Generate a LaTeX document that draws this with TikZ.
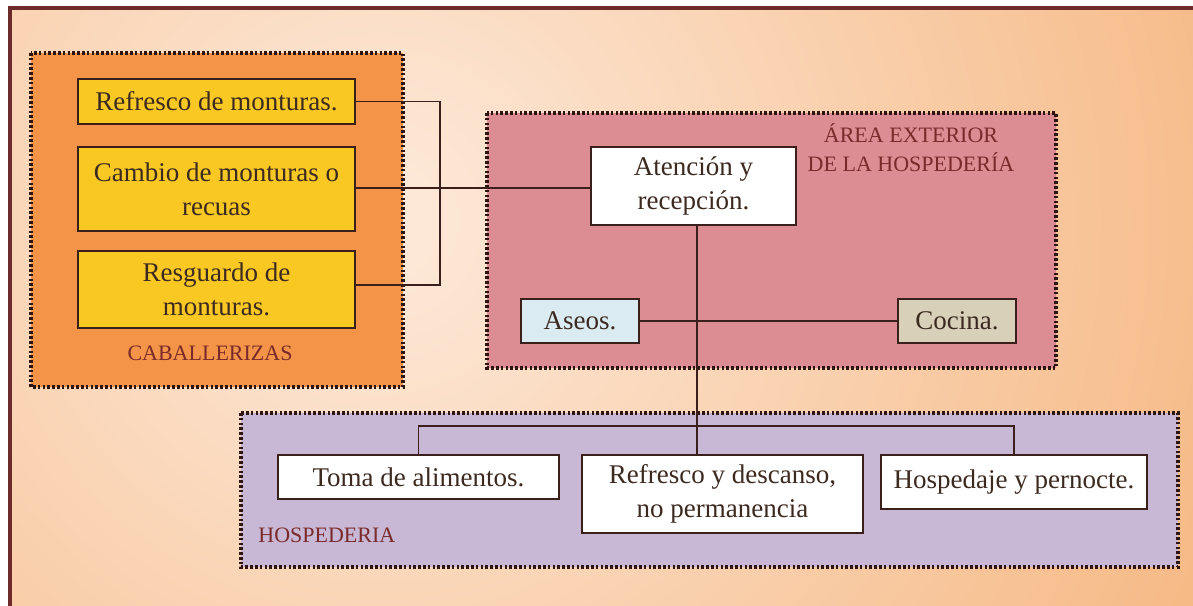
\documentclass[tikz,border=0pt]{standalone}
\usepackage{fontspec}
\setmainfont{Liberation Serif}
\newfontfamily\boxfont{Liberation Serif}
\definecolor{frame}{HTML}{6E2B2B}
\definecolor{dots}{HTML}{2E140E}
\definecolor{lin}{HTML}{3B1F1A}
\definecolor{txt}{HTML}{3C2A20}
\definecolor{lab}{HTML}{7A2A2A}
\definecolor{bglight}{HTML}{FDEADB}
\definecolor{bgdark}{HTML}{F5B47C}
\definecolor{cab}{HTML}{F39448}
\definecolor{yel}{HTML}{F9C823}
\definecolor{pink}{HTML}{DC8C93}
\definecolor{lav}{HTML}{C8B8D5}
\definecolor{aseo}{HTML}{DAECF2}
\definecolor{coc}{HTML}{D8D0B8}
\tikzset{
  zone/.style={draw=dots, line width=1.9pt, dash pattern=on 1.3pt off 1.1pt},
  boxa/.style={draw=lin, line width=0.8pt, inner sep=0pt, align=center, text=txt,
     font=\boxfont\fontsize{13.5}{17}\selectfont},
  conn/.style={draw=lin, line width=0.8pt},
  zlabel/.style={text=lab, font=\boxfont\fontsize{11}{14.5}\selectfont, inner sep=0pt, align=center}
}
\begin{document}
\begin{tikzpicture}[x=0.5pt,y=-0.5pt]
\useasboundingbox (0,0) rectangle (1193,605);
\fill[white] (0,0) rectangle (1193,605);
\begin{scope}
\clip (10,8) rectangle (1193,605);
\shade[inner color=bglight, outer color=bgdark] (380,220) circle (1000);
\end{scope}
\draw[frame, line width=1.6pt] (10,610) -- (10,8) -- (1200,8);
% zones
\filldraw[zone, fill=cab] (31,53) rectangle (403,387);
\filldraw[zone, fill=pink] (487,113) rectangle (1056,368);
\filldraw[zone, fill=lav] (241,413) rectangle (1178,567);
% caballerizas boxes
\node[boxa, fill=yel, minimum width=138.5pt, minimum height=22.5pt] (b1) at (216.5,101.5) {Refresco de monturas.};
\node[boxa, fill=yel, minimum width=138.5pt, minimum height=42pt] (b2) at (216.5,189) {Cambio de monturas o\\recuas};
\node[boxa, fill=yel, minimum width=138.5pt, minimum height=38.5pt] (b3) at (216.5,289.5) {Resguardo de\\monturas.};
\node[zlabel] (lcab) at (210,353) {CABALLERIZAS};
% exterior
\node[boxa, fill=white, minimum width=102.5pt, minimum height=39pt] (at) at (693.5,186) {Atención y\\recepción.};
\node[boxa, fill=aseo, minimum width=59pt, minimum height=22pt] (as) at (580,321) {Aseos.};
\node[boxa, fill=coc, minimum width=59pt, minimum height=22pt] (co) at (957,321) {Cocina.};
\node[zlabel] (lext) at (911,148) {ÁREA EXTERIOR\\DE LA HOSPEDERÍA};
% hospederia
\node[boxa, fill=white, minimum width=140.5pt, minimum height=22pt] (t1) at (418.5,477) {Toma de alimentos.};
\node[boxa, fill=white, minimum width=140.5pt, minimum height=39pt] (t2) at (722.5,494) {Refresco y descanso,\\no permanencia};
\node[boxa, fill=white, minimum width=133pt, minimum height=27pt] (t3) at (1014,482) {Hospedaje y pernocte.};
\node[zlabel, anchor=west] (lhos) at (258,535) {HOSPEDERIA};
% connectors
\coordinate (bus) at (440,0);
\coordinate (bar) at (0,426);
\coordinate (vx) at (697,0);
\draw[conn] (b1.east) -- (b1.east -| bus) -- ([yshift=2.25pt]b3.east -| bus) -- ([yshift=2.25pt]b3.east);
\draw[conn] ([yshift=0.5pt]b2.east) -- ([yshift=0.5pt]b2.east -| at.west);
\draw[conn] (as.east) -- (co.west);
\draw[conn] (at.south -| vx) -- (t2.north -| vx);
\draw[conn] (t1.north) -- (t1.north |- bar) -- (t3.north |- bar) -- (t3.north);
\end{tikzpicture}
\end{document}
